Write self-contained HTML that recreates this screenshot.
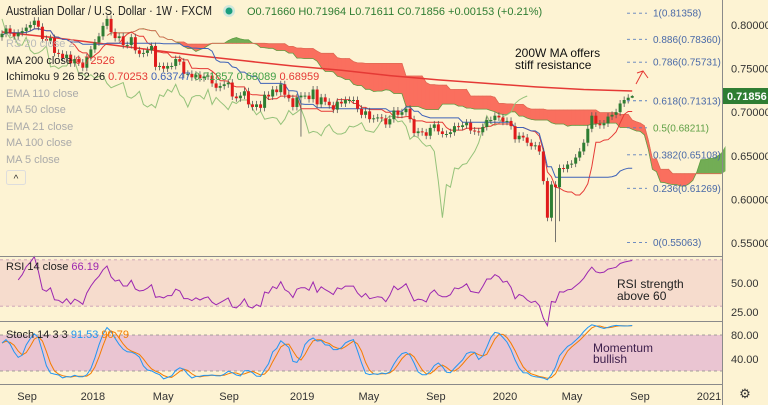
<!DOCTYPE html>
<html><head><meta charset="utf-8">
<style>
html,body{margin:0;padding:0;background:#fdf3d3;}
svg{display:block;font-family:"Liberation Sans",sans-serif;}
</style></head>
<body>
<svg id="chart" width="768" height="405" viewBox="0 0 768 405" xmlns="http://www.w3.org/2000/svg">
<rect x="0" y="0" width="768" height="405" fill="#fdf3d3"/>
<g id="bands"></g>
<g id="main"></g>
<g id="rsi"></g>
<g id="stoch"></g>
<g id="axes"></g>
<g id="legend">
  <text x="6" y="15" font-size="13" fill="#222" textLength="206" lengthAdjust="spacingAndGlyphs">Australian Dollar / U.S. Dollar · 1W · FXCM</text>
  <circle cx="229" cy="11" r="6" fill="#cfe7dc"/>
  <circle cx="229" cy="11" r="3.5" fill="#1a9e7e"/>
  <text x="247" y="15" font-size="11" fill="#2e7d32">O0.71660 H0.71964 L0.71611 C0.71856 +0.00153 (+0.21%)</text>
  <text x="6" y="47" font-size="11" fill="#bbb">RS 20 close 2</text>
  <text x="6" y="64" font-size="11" fill="#222">MA 200 close <tspan fill="#e53935">0.72526</tspan></text>
  <text x="6" y="80" font-size="11" fill="#222">Ichimoku 9 26 52 26 <tspan fill="#e53935">0.70253</tspan> <tspan fill="#3f63b8">0.63747</tspan> <tspan fill="#43a047">0.71857</tspan> <tspan fill="#43a047">0.68089</tspan> <tspan fill="#e53935">0.68959</tspan></text>
  <text x="6" y="97" font-size="11" fill="#aaa">EMA 110 close</text>
  <text x="6" y="113" font-size="11" fill="#aaa">MA 50 close</text>
  <text x="6" y="130" font-size="11" fill="#aaa">EMA 21 close</text>
  <text x="6" y="146" font-size="11" fill="#aaa">MA 100 close</text>
  <text x="6" y="163" font-size="11" fill="#aaa">MA 5 close</text>
  <rect x="6.5" y="170.5" width="19" height="14" rx="2" fill="#fdf3d3" stroke="#ddd"/>
  <text x="16" y="182" font-size="10" fill="#333" text-anchor="middle">^</text>
</g>
<g id="notes">
  <text x="515" y="57" font-size="12" fill="#111">200W MA offers</text>
  <text x="515" y="69" font-size="12" fill="#111">stiff resistance</text>
  <path d="M636 84 L643 71 M637 73 L643 71 L648 78" stroke="#e53935" stroke-width="1" fill="none"/>
  <text x="617" y="288" font-size="12" fill="#222">RSI strength</text>
  <text x="617" y="300" font-size="12" fill="#222">above 60</text>
  <text x="593" y="352" font-size="12" fill="#3b1d4a">Momentum</text>
  <text x="593" y="363" font-size="12" fill="#3b1d4a">bullish</text>
  <text x="6" y="270" font-size="11" fill="#222">RSI 14 close <tspan fill="#9c27b0">66.19</tspan></text>
  <text x="6" y="338" font-size="11" fill="#222">Stoch 14 3 3 <tspan fill="#2196f3">91.53</tspan> <tspan fill="#f57c00">90.79</tspan></text>
  <text x="745" y="398" font-size="13" fill="#333" text-anchor="middle">⚙</text>
</g>
</svg>
<script>
const closes=[0.790,0.796,0.791,0.787,0.791,0.793,0.797,0.800,0.805,0.798,0.784,0.782,0.785,0.768,0.767,0.762,0.766,0.756,0.761,0.757,0.751,0.763,0.772,
0.780,0.787,0.799,0.807,0.792,0.785,0.787,0.777,0.777,0.786,0.771,0.767,0.768,0.771,0.776,0.752,0.753,0.750,0.753,0.753,0.761,0.758,0.744,0.744,0.740,0.743,0.739,0.741,0.742,0.733,0.728,0.730,0.732,0.734,0.718,0.716,0.719,0.724,0.709,0.706,0.709,0.705,0.720,0.718,0.726,0.723,0.732,0.720,0.716,0.706,
0.717,0.719,0.719,0.715,0.726,0.709,0.717,0.712,0.708,0.703,0.712,0.710,0.714,0.714,0.714,0.704,0.697,0.701,0.692,0.693,0.694,0.693,0.686,0.692,0.702,0.697,0.700,0.704,0.692,0.676,0.678,0.677,0.673,0.682,0.686,0.678,0.675,0.675,0.677,0.684,0.683,0.685,0.688,0.679,0.678,0.677,0.683,0.691,0.691,0.696,
0.694,0.689,0.690,0.684,0.669,0.673,0.671,0.665,0.661,0.662,0.655,0.621,0.579,0.617,0.614,0.636,0.635,0.640,0.641,0.648,0.655,0.665,0.681,0.696,0.687,0.685,0.687,0.695,0.697,0.700,0.710,0.714,0.7166,0.71856];
const firstOpen=0.786;
const spikeIdx=[74,137,138];
const spikeLow=[0.672,0.551,0.575];
const ma200=[0.792,0.786,0.779,0.772,0.765,0.759,0.753,0.748,0.742,0.737,0.733,0.729,0.726,0.7243];
const fibLevels=[1,0.886,0.786,0.618,0.5,0.382,0.236,0];
const fibPrices=[0.81358,0.78360,0.75731,0.71313,0.68211,0.65108,0.61269,0.55063];
const priceTicks=[0.80,0.75,0.70,0.65,0.60,0.55];
const timeLabels=["Sep","2018","May","Sep","2019","May","Sep","2020","May","Sep","2021"];
const timeWeeks=[6.2,22.5,39.9,56.2,74.3,90.8,107.4,124.5,141.1,157.9,175];

const NS="http://www.w3.org/2000/svg";
const PL=722, X0=2, DX=4.04;
const xs=i=>X0+i*DX;
const yP=p=>25+(0.80-p)/0.05*43.6;
const yR=v=>283-(v-50)*29/25;
const yS=v=>335-(v-80)*24/40;
function mk(parent,tag,attrs){const e=document.createElementNS(NS,tag);for(const k in attrs)e.setAttribute(k,attrs[k]);document.getElementById(parent).appendChild(e);return e;}
const n=closes.length;
const opens=closes.map((c,i)=>i===0?firstOpen:closes[i-1]);
const highs=closes.map((c,i)=>Math.max(c,opens[i])+0.004);
const lows=closes.map((c,i)=>Math.min(c,opens[i])-0.004);
spikeIdx.forEach((k,j)=>{lows[k]=spikeLow[j];});
highs[n-1]=0.71964;lows[n-1]=0.71611;

let e;
e=mk('bands','rect',{x:0,y:yR(70),width:PL,height:yR(30)-yR(70),fill:'#f6dccd'});


e=mk('bands','rect',{x:0,y:yS(80),width:PL,height:yS(20)-yS(80),fill:'#eac5d2'});


[[yR(70),'#c99ab5'],[yR(30),'#c99ab5'],[yS(80),'#888'],[yS(20),'#888']].forEach(([y,c])=>{
 e=mk('bands','line',{x1:0,x2:PL,y1:y,y2:y,stroke:c,'stroke-dasharray':'3,3','stroke-width':0.8});
 
 
});

function mid(a,b,i,len){let h=-1,l=9;for(let k=Math.max(0,i-len+1);k<=i;k++){h=Math.max(h,a[k]);l=Math.min(l,b[k]);}return (h+l)/2;}
const tenkan=[],kijun=[],spanA=[],spanB=[];
for(let i=0;i<n;i++){tenkan.push(mid(highs,lows,i,9));kijun.push(mid(highs,lows,i,26));spanA.push((tenkan[i]+kijun[i])/2);spanB.push(mid(highs,lows,i,52));}
for(let i=0;i<n-1;i++){
 const xa=xs(i+26),xb=xs(i+27);
 if(xa>PL)break;
 const up=spanA[i]>=spanB[i];
 e=mk('main','polygon',{points:`${xa},${yP(spanA[i])} ${xb},${yP(spanA[i+1])} ${xb},${yP(spanB[i+1])} ${xa},${yP(spanB[i])}`,fill:up?'#72ad55':'#fa6f5e',stroke:up?'#72ad55':'#fa6f5e','stroke-width':0.6});
 
 
}
function line(parent,arr,fx,fy,color,w,name){
 const pts=arr.map((v,i)=>`${fx(i).toFixed(1)},${fy(v).toFixed(1)}`).join(' ');
 const el=mk(parent,'polyline',{points:pts,fill:'none',stroke:color,'stroke-width':w});
 
 
}
line('main',spanA.slice(0,Math.min(n,Math.floor((PL-X0)/DX)-25)),i=>xs(i+26),yP,'#5fa046',0.8,'senkou-span-a');
line('main',spanB.slice(0,Math.min(n,Math.floor((PL-X0)/DX)-25)),i=>xs(i+26),yP,'#e06a55',0.8,'senkou-span-b');
line('main',closes.slice(26),i=>xs(i),yP,'#95c27a',1,'chikou-span');
line('main',ma200,i=>xs(i*12),yP,'#e53935',1.5,'ma200-line');
line('main',tenkan,i=>xs(i),yP,'#e53935',1,'tenkan-sen');
line('main',kijun,i=>xs(i),yP,'#3f63b8',1,'kijun-sen');

for(let i=0;i<n;i++){
 const o=opens[i],c=closes[i],up=c>=o,col=up?'#2e7d32':'#e01b1b';
 const x=xs(i);
 e=mk('main','line',{x1:x,x2:x,y1:yP(highs[i]),y2:yP(lows[i]),stroke:'#555','stroke-width':0.8});
 
 
 const top=yP(Math.max(o,c)),bot=yP(Math.min(o,c));
 e=mk('main','rect',{x:x-1.5,y:top,width:3,height:Math.max(1,bot-top),fill:col});
 
 
}

fibPrices.forEach((p,j)=>{
 const y=yP(p);
 e=mk('main','line',{x1:627,x2:647,y1:y,y2:y,stroke:'#5b7fbf','stroke-dasharray':'3,3','stroke-width':0.9});
 
 
 e=mk('main','text',{x:653,y:y+3.5,'font-size':10,fill:fibLevels[j]===0.5?'#5fa046':'#4a6aa8'});
 e.textContent=fibLevels[j]+'('+p.toFixed(5)+')';
 
 
});

const rsi=[];let ag=0,al=0;
for(let i=0;i<n;i++){
 if(i===0){rsi.push(50);continue;}
 const d=closes[i]-closes[i-1],g=Math.max(d,0),l=Math.max(-d,0);
 if(i<=14){ag+=g/14;al+=l/14;}else{ag=(ag*13+g)/14;al=(al*13+l)/14;}
 rsi.push(al===0?100:100-100/(1+ag/al));
}
line('rsi',rsi.slice(4),i=>xs(i+4),v=>yR(v),'#9c27b0',1,'rsi-line');

const raw=closes.map((c,i)=>{let h=-1,l=9;for(let k=Math.max(0,i-13);k<=i;k++){h=Math.max(h,highs[k]);l=Math.min(l,lows[k]);}return h===l?50:(c-l)/(h-l)*100;});
const sma=(a,i,len)=>{let s=0,c=0;for(let k=Math.max(0,i-len+1);k<=i;k++){s+=a[k];c++;}return s/c;};
const K=raw.map((v,i)=>sma(raw,i,3));
const D=K.map((v,i)=>sma(K,i,3));
line('stoch',D,i=>xs(i),v=>yS(v),'#f57c00',1,'stoch-d-line');
line('stoch',K,i=>xs(i),v=>yS(v),'#2196f3',1,'stoch-k-line');

[[0,256.5,PL,256.5],[0,321.5,PL,321.5],[0,384.5,PL,384.5],[PL+0.5,0,PL+0.5,405]].forEach(([a,b,c,d])=>{
 e=mk('axes','line',{x1:a,y1:b,x2:c,y2:d,stroke:'#8a8a8a','stroke-width':1});
 
 
});
priceTicks.forEach(p=>{
 e=mk('axes','text',{x:731,y:yP(p)+4,'font-size':11,fill:'#333'});
 e.textContent=p.toFixed(5);
 
 
});
[[50,yR],[25,yR],[80,yS],[40,yS]].forEach(([v,f])=>{
 e=mk('axes','text',{x:731,y:f(v)+4,'font-size':11,fill:'#333'});
 e.textContent=v.toFixed(2);
 
 
});
timeLabels.forEach((t,j)=>{
 const x=xs(timeWeeks[j]);
 e=mk('axes','text',{x:x,y:400,'font-size':11,fill:'#333','text-anchor':'middle'});
 e.textContent=t;
 
 
});
const last=closes[n-1];
e=mk('axes','rect',{x:PL+1,y:yP(last)-8,width:46,height:16,fill:'#2e7d32'});


e=mk('axes','text',{x:727,y:yP(last)+4,'font-size':11,fill:'#fff','font-weight':'bold'});
e.textContent=last.toFixed(5);


</script>
</body></html>
